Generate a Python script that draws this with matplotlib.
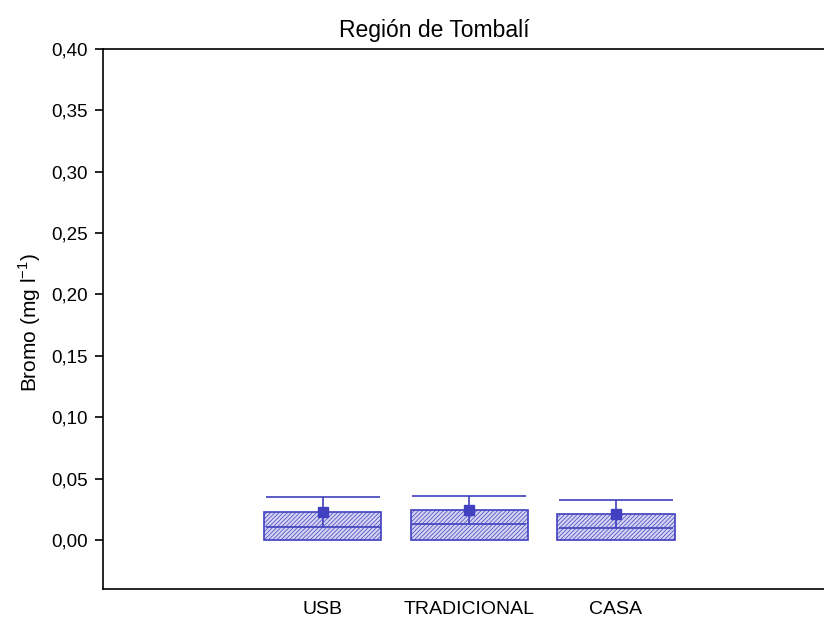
import matplotlib
matplotlib.use("Agg")
import matplotlib.pyplot as plt
import numpy as np

# Bromine concentration by water-source type
categories = ["USB", "TRADICIONAL", "CASA"]
means = [0.0228, 0.0244, 0.0212]
errors = [0.0120, 0.0112, 0.0115]
yticks = [0.00, 0.05, 0.10, 0.15, 0.20, 0.25, 0.30, 0.35, 0.40]
ytick_labels = ["0,00", "0,05", "0,10", "0,15", "0,20", "0,25", "0,30", "0,35", "0,40"]

plt.rcParams["font.family"] = ["Liberation Sans", "DejaVu Sans"]
plt.rcParams["mathtext.fontset"] = "custom"
plt.rcParams["mathtext.rm"] = "Liberation Sans"
plt.rcParams["hatch.linewidth"] = 0.5

edge = "#4040C0"

fig = plt.figure(figsize=(8.24, 6.23), dpi=100)
ax = fig.add_axes([103 / 824, 1 - 589 / 623, 1 - 103 / 824, (589 - 49) / 623])

x = np.arange(1, len(categories) + 1)
ax.bar(x, means, width=0.8, color="#d4d4f2", edgecolor=edge, linewidth=1.2,
       hatch="////////", zorder=2)
ax.errorbar(x, means, yerr=errors, fmt="s", color=edge, ecolor=edge,
            markersize=7, elinewidth=1.2, capsize=41, capthick=1.2, zorder=3)

ax.set_xlim(-0.5, 4.42)
ax.set_ylim(-0.04, 0.40)
ax.set_yticks(yticks)
ax.set_yticklabels(ytick_labels)
ax.set_xticks(x)
ax.set_xticklabels(categories)

ax.spines["right"].set_visible(False)
for s in ("left", "bottom", "top"):
    ax.spines[s].set_linewidth(1.2)

ax.tick_params(axis="y", direction="out", length=6, width=1.2, pad=5, labelsize=13.5)
ax.tick_params(axis="x", length=0, pad=9, labelsize=14)

fig.text(30 / 824, 1 - 323 / 623, "Bromo (mg l$^{\\mathregular{-1}}$)", fontsize=15,
         rotation=90, ha="center", va="center")
fig.text(434 / 824, 1 - 31 / 623, "Región de Tombalí", fontsize=16.5,
         ha="center", va="center")

fig.savefig("out.png", dpi=100)
